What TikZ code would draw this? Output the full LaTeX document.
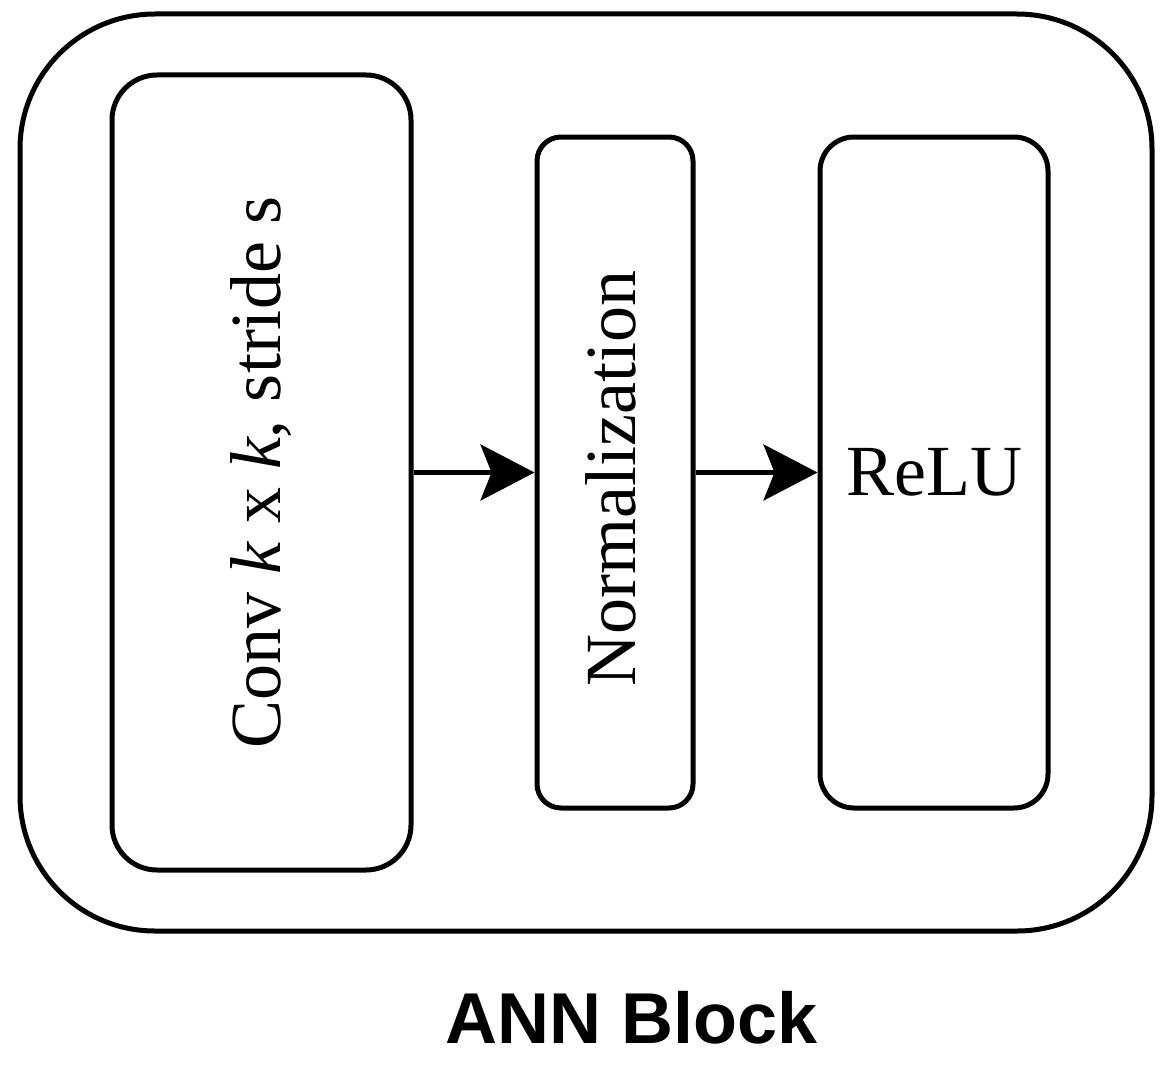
\documentclass[tikz,border=0pt]{standalone}
\usepackage{fontspec}
\setmainfont{Liberation Serif}
\setsansfont{Liberation Sans}
\usetikzlibrary{arrows.meta}
\tikzset{
  layerbox/.style={draw, line width=5pt, rounded corners=#1, inner sep=0pt},
  layertext/.style={font=\fontsize{72}{86}\selectfont, inner sep=0pt},
  flow/.style={line width=4.5pt, -{Stealth[length=54pt, width=56pt, inset=11pt]}},
}
\begin{document}
\begin{tikzpicture}[x=1pt, y=-1pt]
    \useasboundingbox (0,0) rectangle (1170,1065);
    % outer block
    \node[layerbox=135pt, minimum width=1132pt, minimum height=917pt] (block) at (586,472.5) {};
    % layers
    \node[layerbox=45pt, minimum width=299pt, minimum height=795pt] (conv) at (261.5,472.5) {};
    \node[layerbox=24pt, minimum width=156pt, minimum height=671pt] (norm) at (615,472.5) {};
    \node[layerbox=34pt, minimum width=228pt, minimum height=671pt] (relu) at (934,472.5) {};
    % layer texts
    \node[layertext, rotate=90] (convtext) at (conv.center) {Conv \textit{k} x \textit{k}, stride s};
    \node[layertext, rotate=90] (normtext) at ([xshift=-4pt, yshift=-6pt]norm.center) {Normalization};
    \node[layertext] (relutext) at (relu.center) {ReLU};
    % arrows
    \draw[flow] (conv.east) -- (norm.west);
    \draw[flow] (norm.east) -- (relu.west);
    % title
    \node[font=\sffamily\bfseries\fontsize{72}{86}\selectfont, anchor=base] (title) at (632,1043) {ANN Block};
\end{tikzpicture}
\end{document}
